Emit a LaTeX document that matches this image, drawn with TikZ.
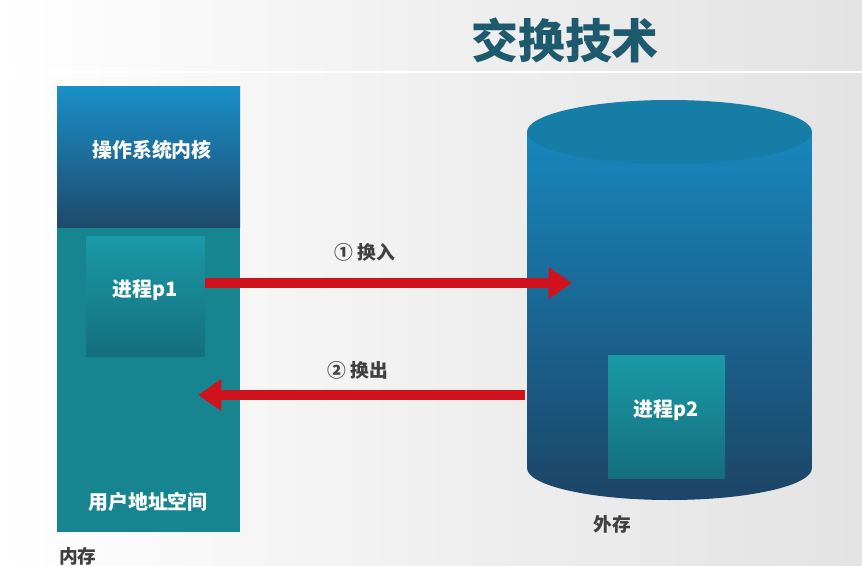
\documentclass[tikz,border=0pt]{standalone}
\usepackage{fontspec}
\setmainfont{Noto Sans CJK SC}
\usetikzlibrary{arrows.meta}
\definecolor{titleblue}{HTML}{1E5A6E}
\definecolor{kernelTop}{HTML}{1A8FC8}
\definecolor{kernelBot}{HTML}{1E4A6C}
\definecolor{userTeal}{HTML}{178590}
\definecolor{procTop}{HTML}{1A9AA8}
\definecolor{procBot}{HTML}{156E7C}
\definecolor{diskTop}{HTML}{1887BE}
\definecolor{diskBot}{HTML}{1C4466}
\definecolor{diskLid}{HTML}{157DA6}
\definecolor{swapred}{HTML}{D0121C}
\begin{document}
\begin{tikzpicture}
      [x=0.03cm, y=0.03cm,
        whitelabel/.style={text=white, font=\fontsize{17}{19}\selectfont\bfseries},
        darklabel/.style={text=black!75, font=\fontsize{16}{18}\selectfont\bfseries},
        swap/.style={draw=swapred, line width=8pt, -{Triangle[length=20pt,width=26pt]}}]
      % background
      \shade[left color=white, right color=gray!22, middle color=gray!12] (0,0) rectangle (862,-566);
      \useasboundingbox (0,0) rectangle (862,-566);
      \draw[white, line width=2pt] (0,-72) -- (862,-72);
      \node[text=titleblue, font=\fontsize{40}{44}\selectfont\bfseries] (title) at (565,-40) {交换技术};
      % main memory
      \shade[top color=kernelTop, bottom color=kernelBot] (57,-87) rectangle (240,-228);
      \fill[userTeal] (57,-228) rectangle (240,-532);
      \shade[top color=procTop, bottom color=procBot] (86,-236) rectangle (205,-356);
      \node[whitelabel] (kernel) at (152,-150) {操作系统内核};
      \node[whitelabel] (p1) at (145,-290) {进程p1};
      \node[whitelabel] (user) at (148,-502) {用户地址空间};
      \node[darklabel, anchor=west] (mem) at (55,-556) {内存};
      % disk
      \shade[top color=diskTop, bottom color=diskBot]
        (527,-132) -- (527,-468) arc (180:360:142.5 and 32) -- (812,-132) -- cycle;
      \fill[diskLid] (669.5,-132) ellipse (142.5 and 32);
      \shade[top color=procTop, bottom color=procBot] (608,-355) rectangle (725,-478);
      \node[whitelabel] (p2) at (666,-410) {进程p2};
      \node[darklabel] (disk) at (612,-524) {外存};
      % swapping
      \coordinate (inStart) at (205,-283);
      \coordinate (inTip) at (572,-283);
      \coordinate (outStart) at (525,-395);
      \coordinate (outTip) at (198,-395);
      \draw[swap] (inStart) -- (inTip);
      \draw[swap] (outStart) -- (outTip);
      \node[darklabel] (swapin) at (365,-252) {① 换入};
      \node[darklabel] (swapout) at (358,-370) {② 换出};
\end{tikzpicture}
\end{document}
